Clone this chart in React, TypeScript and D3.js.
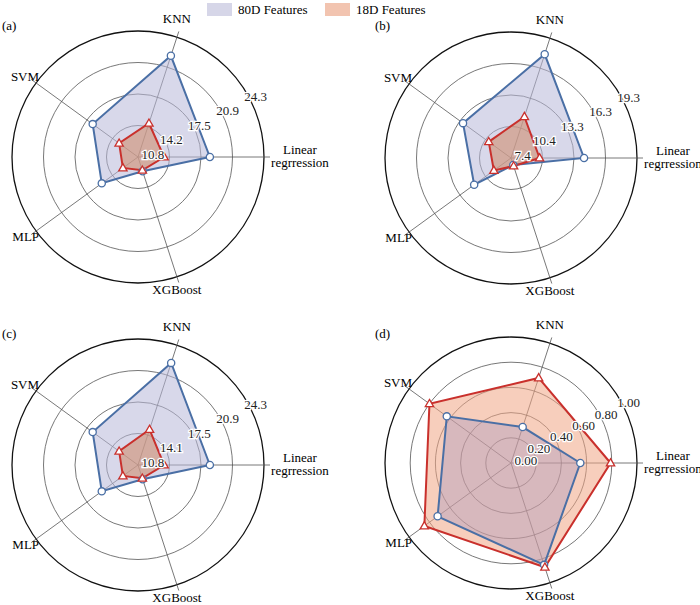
import * as d3 from "d3";
import React from "react";

const categories = ["Linear\nregrression", "KNN", "SVM", "MLP", "XGBoost"];
const panelNames = ["(a)", "(b)", "(c)", "(d)"];
const tickLabels = [
  ["10.8", "14.2", "17.5", "20.9", "24.3"],
  ["7.4", "10.4", "13.3", "16.3", "19.3"],
  ["10.8", "14.1", "17.5", "20.9", "24.3"],
  ["0.00", "0.20", "0.40", "0.60", "0.80", "1.00"],
];
const domains: [number, number][] = [
  [10.8, 24.3],
  [7.4, 19.3],
  [10.8, 24.3],
  [0, 1],
];
// order: Linear regression, KNN, SVM, MLP, XGBoost
const values80 = [
  [18.5, 22.2, 16.8, 15.6, 12.4],
  [14.3, 17.7, 13.0, 11.7, 8.1],
  [18.5, 22.3, 16.8, 15.6, 12.4],
  [0.55, 0.3, 0.63, 0.72, 0.85],
];
const values18 = [
  [13.6, 14.6, 13.3, 12.8, 12.3],
  [10.1, 11.5, 10.0, 9.4, 8.2],
  [13.6, 14.8, 13.3, 12.8, 12.3],
  [0.79, 0.71, 0.8, 0.85, 0.87],
];

const centers = [
  [138, 157],
  [511, 158],
  [138, 465],
  [511, 463],
];
const labelPos = [
  [2, 30],
  [375, 30],
  [2, 338],
  [375, 338],
];
const R = 126;
const BLUE = "#4a6fa5";
const RED = "#c9302c";
const FONT = "'Liberation Serif', 'Times New Roman', serif";

const ang = (i: number) => (i * 72 * Math.PI) / 180;

function Panel({ p }: { p: number }) {
  const [cx, cy] = centers[p];
  const r = d3.scaleLinear().domain(domains[p]).range([0, R]);
  const ticks = tickLabels[p];
  const step = R / (ticks.length - 1);
  const pt = (i: number, v: number): [number, number] => [
    Math.cos(ang(i)) * r(v),
    -Math.sin(ang(i)) * r(v),
  ];
  const line = d3.line().curve(d3.curveLinearClosed);
  const p80 = values80[p].map((v, i) => pt(i, v));
  const p18 = values18[p].map((v, i) => pt(i, v));
  const tri = d3.symbol(d3.symbolTriangle, 30)() as string;
  const labelAng = (27 * Math.PI) / 180;

  return (
    <g fontFamily={FONT}>
      <text x={labelPos[p][0]} y={labelPos[p][1]} fontSize={13}>
        {panelNames[p]}
      </text>
      <g transform={`translate(${cx},${cy})`}>
        {ticks.slice(1).map((_, k) => (
          <circle key={k} r={step * (k + 1)} fill="none"
            stroke={k === ticks.length - 2 ? "#111" : "#555"}
            strokeWidth={k === ticks.length - 2 ? 1.3 : 0.8} />
        ))}
        {categories.map((_, i) => (
          <line key={i} x1={0} y1={0} x2={Math.cos(ang(i)) * (R + 6)} y2={-Math.sin(ang(i)) * (R + 6)}
            stroke="#555" strokeWidth={0.8} />
        ))}
        {p === 3 ? (
          <>
            <path d={line(p18)!} fill="#f0a585" fillOpacity={0.55} />
            <path d={line(p80)!} fill="#9a8fc0" fillOpacity={0.35} />
          </>
        ) : (
          <>
            <path d={line(p80)!} fill="#b8b8d8" fillOpacity={0.55} />
            <path d={line(p18)!} fill="#d09070" fillOpacity={0.6} />
          </>
        )}
        <path d={line(p80)!} fill="none" stroke={BLUE} strokeWidth={2} />
        <path d={line(p18)!} fill="none" stroke={RED} strokeWidth={2} />
        {p80.map((q, i) => (
          <circle key={i} cx={q[0]} cy={q[1]} r={3.6} fill="white" stroke={BLUE} strokeWidth={1.3} />
        ))}
        {p18.map((q, i) => (
          <path key={i} d={tri} transform={`translate(${q[0]},${q[1] + 0.5})`} fill="white" stroke={RED} strokeWidth={1.3} />
        ))}
        {ticks.map((t, k) => {
          const rr = k * step + (k === 0 ? 4 : 6);
          return (
            <text key={t} x={Math.cos(labelAng) * rr} y={-Math.sin(labelAng) * rr + 4}
              fontSize={13} textAnchor={k === 0 ? "start" : "middle"}
              stroke="white" strokeWidth={2.5} paintOrder="stroke" fill="#222">
              {t}
            </text>
          );
        })}
        <text x={R + 36} y={-3} fontSize={13} textAnchor="middle">Linear</text>
        <text x={R + 36} y={10} fontSize={13} textAnchor="middle">regrression</text>
        <text x={Math.cos(ang(1)) * R} y={-Math.sin(ang(1)) * R - 14} fontSize={13} textAnchor="middle">KNN</text>
        <text x={Math.cos(ang(2)) * R + 3} y={-Math.sin(ang(2)) * R - 2} fontSize={13} textAnchor="end">SVM</text>
        <text x={Math.cos(ang(3)) * R + 3} y={-Math.sin(ang(3)) * R + 10} fontSize={13} textAnchor="end">MLP</text>
        <text x={Math.cos(ang(4)) * R} y={-Math.sin(ang(4)) * R + 17} fontSize={13} textAnchor="middle">XGBoost</text>
      </g>
    </g>
  );
}

export default function App() {
  return (
    <svg width={700} height={605} style={{ position: "absolute", left: 0, top: 0, background: "white" }}>
      <g fontFamily={FONT} fontSize={13}>
        <rect x={207} y={3} width={25} height={13} fill="#d6d6e8" />
        <text x={238} y={14}>80D Features</text>
        <rect x={325} y={3} width={25} height={13} fill="#f2c4b0" />
        <text x={356} y={14}>18D Features</text>
      </g>
      {[0, 1, 2, 3].map((p) => (
        <Panel key={p} p={p} />
      ))}
    </svg>
  );
}
